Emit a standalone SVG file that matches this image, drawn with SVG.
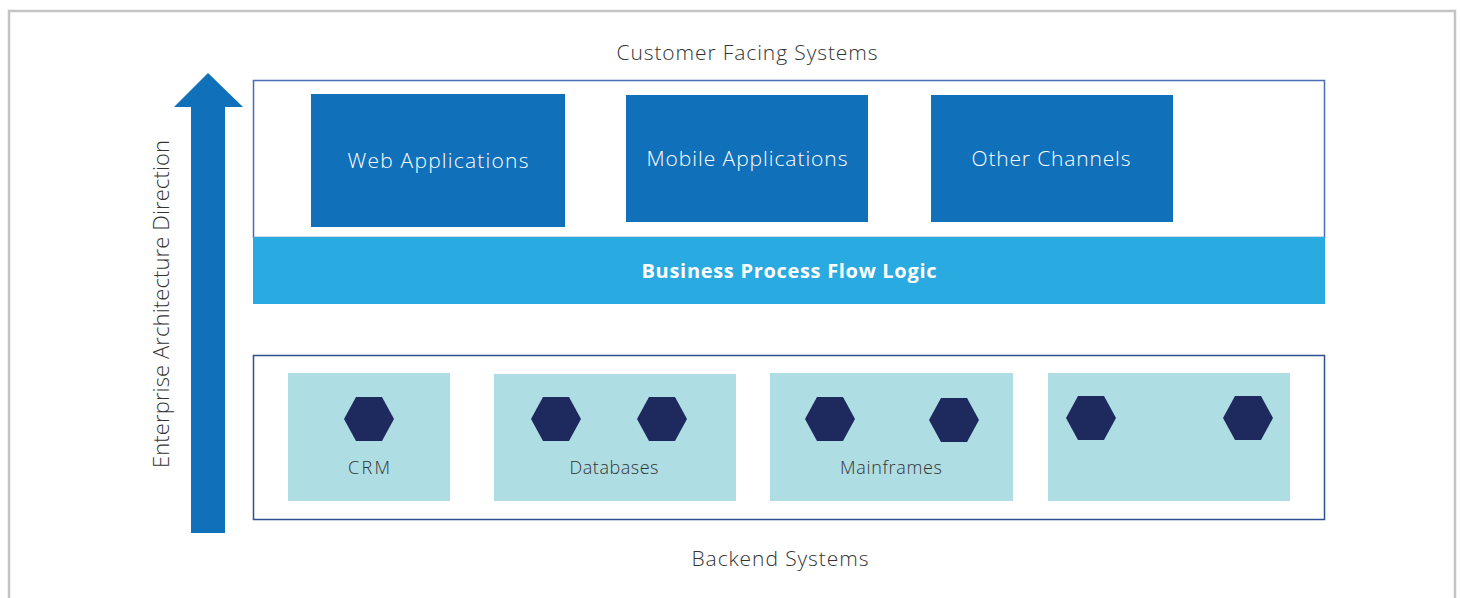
<svg xmlns="http://www.w3.org/2000/svg" width="1460" height="598" viewBox="0 0 1460 598">
<style>
.lbl{font-family:"Open Sans","Liberation Sans",sans-serif;font-weight:300;fill:#333;}
.app{fill:#1170BA;}
.appt{font-family:"Open Sans","Liberation Sans",sans-serif;font-weight:300;font-size:21px;fill:#ffffff;text-anchor:middle;dominant-baseline:central;}
.be{fill:#AEDDE3;}
.hex{fill:#1E295E;}
.bet{font-family:"Open Sans","Liberation Sans",sans-serif;font-weight:300;font-size:18px;fill:#333;text-anchor:middle;dominant-baseline:central;}
</style>
<defs>
<polygon id="hx" points="-25,0 -13,-22 13,-22 25,0 13,22 -13,22"/>
</defs>
<rect width="1460" height="598" fill="#ffffff"/>
<path id="frame" d="M9,598 V11 H1455 V598" fill="none" stroke="#c4c4c4" stroke-width="2.5"/>

<g id="direction-arrow">
<polygon points="208,73 243,107 225,107 225,533 191,533 191,107 174,107" fill="#1170BA"/>
<text class="lbl" font-size="22" text-anchor="middle" dominant-baseline="central" textLength="328" lengthAdjust="spacing" transform="translate(160,304) rotate(-90)">Enterprise Architecture Direction</text>
</g>

<g id="customer-facing">
<text class="lbl" x="747" y="52" font-size="21" text-anchor="middle" dominant-baseline="central" textLength="261" lengthAdjust="spacing">Customer Facing Systems</text>
<rect x="253.5" y="80.5" width="1071" height="157" fill="#ffffff" stroke="#4a6db3" stroke-width="1.5"/>
</g>

<g id="web-apps"><rect class="app" x="311" y="94" width="254" height="133"/><text class="appt" x="438" y="160" textLength="181" lengthAdjust="spacing">Web Applications</text></g>
<g id="mobile-apps"><rect class="app" x="626" y="95" width="242" height="127"/><text class="appt" x="747" y="158" textLength="201" lengthAdjust="spacing">Mobile Applications</text></g>
<g id="other-channels"><rect class="app" x="931" y="95" width="242" height="127"/><text class="appt" x="1051" y="158" textLength="159" lengthAdjust="spacing">Other Channels</text></g>

<g id="business-logic">
<rect x="253" y="237" width="1072" height="67" fill="#29ABE2"/>
<text x="789" y="270" font-family="'Open Sans','Liberation Sans',sans-serif" font-weight="700" font-size="20" fill="#ffffff" text-anchor="middle" dominant-baseline="central" textLength="295" lengthAdjust="spacing">Business Process Flow Logic</text>
</g>

<g id="backend">
<rect x="253.5" y="355.5" width="1071" height="164" fill="#ffffff" stroke="#2f4f8f" stroke-width="1.5"/>
<text class="lbl" x="780" y="558" font-size="21" text-anchor="middle" dominant-baseline="central" textLength="177" lengthAdjust="spacing">Backend Systems</text>
</g>

<g id="crm"><rect class="be" x="288" y="373" width="162" height="128"/><use href="#hx" class="hex" x="369" y="419"/><text class="bet" x="369" y="467" textLength="42" lengthAdjust="spacing">CRM</text></g>
<g id="databases"><rect class="be" x="494" y="374" width="242" height="127"/><use href="#hx" class="hex" x="556" y="419"/><use href="#hx" class="hex" x="662" y="419"/><text class="bet" x="614" y="467" textLength="89" lengthAdjust="spacing">Databases</text></g>
<g id="mainframes"><rect class="be" x="770" y="373" width="243" height="128"/><use href="#hx" class="hex" x="830" y="419"/><use href="#hx" class="hex" x="954" y="420"/><text class="bet" x="891" y="467" textLength="102" lengthAdjust="spacing">Mainframes</text></g>
<g id="other-backend"><rect class="be" x="1048" y="373" width="242" height="128"/><use href="#hx" class="hex" x="1091" y="418"/><use href="#hx" class="hex" x="1248" y="418"/></g>

<g id="connectors"></g>
</svg>
